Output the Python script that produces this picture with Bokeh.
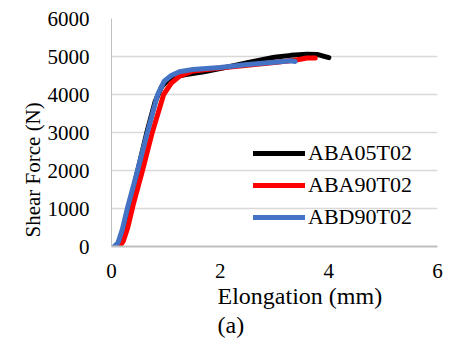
from bokeh.plotting import figure
from bokeh.models import Range1d, FixedTicker, Legend, LegendItem, Title
from bokeh.embed import file_html
from bokeh.resources import INLINE

# ---- data ----
black_x = [0.08, 0.15, 0.25, 0.35, 0.5, 0.65, 0.8, 0.92, 1.05, 1.2, 1.4, 1.7, 2.0, 2.5, 3.0, 3.3, 3.6, 3.8, 4.0]
black_y = [0, 150, 600, 1200, 2100, 3000, 3800, 4200, 4400, 4480, 4530, 4600, 4680, 4840, 4980, 5030, 5060, 5050, 4970]

red_x = [0.15, 0.22, 0.3, 0.4, 0.57, 0.75, 0.96, 1.1, 1.25, 1.5, 2.0, 2.5, 3.0, 3.4, 3.6, 3.75]
red_y = [0, 150, 500, 1100, 2000, 3000, 4000, 4300, 4480, 4620, 4700, 4770, 4840, 4910, 4960, 4960]

blue_x = [0.05, 0.12, 0.2, 0.3, 0.48, 0.66, 0.85, 0.97, 1.1, 1.25, 1.5, 2.0, 2.5, 3.0, 3.3, 3.38]
blue_y = [0, 100, 450, 1050, 2000, 3000, 4000, 4350, 4500, 4600, 4660, 4710, 4790, 4850, 4890, 4870]

series_names = ["ABA05T02", "ABA90T02", "ABD90T02"]
series_colors = ["#000000", "#ff0000", "#4472c4"]

x_ticks = [0, 2, 4, 6]
y_ticks = [0, 1000, 2000, 3000, 4000, 5000, 6000]

FONT = "Liberation Serif"

p = figure(width=454, height=338, output_backend="svg", toolbar_location=None,
           x_range=Range1d(0, 6), y_range=Range1d(0, 6000),
           min_border_left=111, min_border_right=17, min_border_top=18, min_border_bottom=40)
p.outline_line_color = None
p.background_fill_color = "white"

p.xgrid.grid_line_color = None
p.ygrid.grid_line_color = "#d9d9d9"
p.ygrid.grid_line_width = 1.5

p.xaxis.ticker = FixedTicker(ticks=x_ticks)
p.yaxis.ticker = FixedTicker(ticks=y_ticks)
for ax in (p.xaxis[0], p.yaxis[0]):
    ax.major_tick_line_color = None
    ax.minor_tick_line_color = None
    ax.major_label_text_font = FONT
    ax.major_label_text_font_size = "21px"
    ax.major_label_text_color = "#000000"
    ax.axis_line_color = "#bfbfbf"
p.xaxis.axis_line_width = 2
p.yaxis.axis_line_width = 1
p.xaxis.major_label_standoff = 11
p.yaxis.major_label_standoff = 16

renderers = []
for xs, ys, c in [(black_x, black_y, series_colors[0]),
                  (red_x, red_y, series_colors[1]),
                  (blue_x, blue_y, series_colors[2])]:
    r = p.line(xs, ys, line_color=c, line_width=5, line_cap="round", line_join="round")
    renderers.append(r)

legend = Legend(items=[LegendItem(label=n, renderers=[r]) for n, r in zip(series_names, renderers)],
                location=(142, 13), orientation="vertical",
                background_fill_alpha=0, border_line_alpha=0,
                padding=0, margin=0, spacing=0,
                glyph_width=52, glyph_height=32, label_height=32, label_standoff=3,
                label_text_font=FONT, label_text_font_size="22px", label_text_color="#000000")
p.add_layout(legend, "center")

xt = Title(text="Elongation (mm)", align="left", offset=106, text_font=FONT,
           text_font_size="24px", text_font_style="normal", text_color="#000000", standoff=0)
p.add_layout(xt, "below")
at = Title(text="(a)", align="left", offset=106, text_font=FONT,
           text_font_size="24px", text_font_style="normal", text_color="#000000", standoff=2)
p.add_layout(at, "below")
yt = Title(text="Shear Force (N)", align="left", offset=9, text_font=FONT,
           text_font_size="21px", text_font_style="normal", text_color="#000000", standoff=0)
p.add_layout(yt, "left")

open("out.html", "w").write(file_html(p, INLINE))
